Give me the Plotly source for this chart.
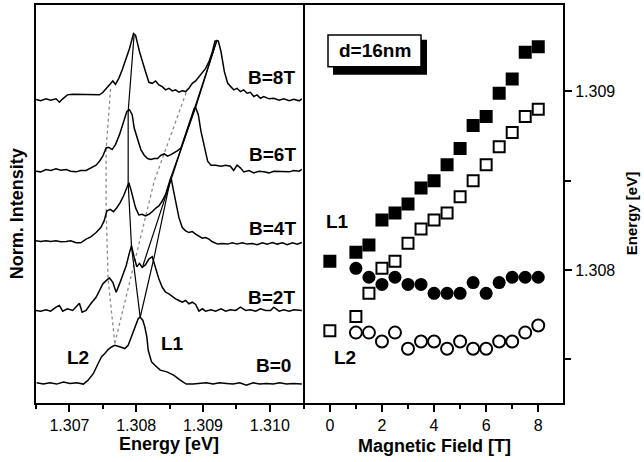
import plotly.graph_objects as go

# ---------------- Left panel: PL spectra (energy in eV, intensity in arb. units) ----------------
E8 = [1.30650, 1.30657, 1.30665, 1.30672, 1.30680, 1.30685, 1.30690, 1.30697, 1.30705, 1.30715,
      1.30725, 1.30735, 1.30745, 1.30750, 1.30755, 1.30760, 1.30765, 1.30769, 1.30774, 1.30779,
      1.30784, 1.30790, 1.30796, 1.30799, 1.30805, 1.30809, 1.30814, 1.30819, 1.30824, 1.30829,
      1.30834, 1.30839, 1.30844, 1.30849, 1.30854, 1.30859, 1.30864, 1.30869, 1.30874, 1.30879,
      1.30884, 1.30889, 1.30894, 1.30899, 1.30904, 1.30909, 1.30914, 1.30918, 1.30923, 1.30927,
      1.30932, 1.30937, 1.30942, 1.30946, 1.30951, 1.30956, 1.30961, 1.30966, 1.30971, 1.30976,
      1.30981, 1.30986, 1.30991, 1.30999, 1.31006, 1.31014, 1.31021, 1.31029, 1.31036, 1.31044,
      1.31048]
I8 = [0, -1.3, 0.7, -0.7, 0.7, -2.7, 0.7, 4.7, 5.3, 5.3,
      5.3, 5.3, 4.7, 7, 11.3, 14.7, 18.7, 15.3, 21.3, 29.7,
      39.7, 51.3, 66.3, 64.7, 48, 38, 28, 17.3, 16.3, 18.7,
      14.7, 13, 9.7, 11.3, 8.7, 9.7, 7.3, 8.7, 8, 11.3,
      16.3, 18.7, 23, 26.3, 31.3, 38, 48, 58.7, 58.7, 48,
      28, 16.3, 13, 9.7, 11.3, 8, 9.7, 6.3, 7.3, 3,
      4.7, 1.3, 3, 0.7, 1.3, -0.7, 0.7, -1.3, 0.3, -1.3,
      0.7]

E6 = [1.30650, 1.30657, 1.30665, 1.30672, 1.30680, 1.30687, 1.30695, 1.30702, 1.30710, 1.30717,
      1.30725, 1.30732, 1.30740, 1.30745, 1.30750, 1.30755, 1.30759, 1.30764, 1.30769, 1.30775,
      1.30781, 1.30786, 1.30790, 1.30794, 1.30797, 1.30802, 1.30807, 1.30812, 1.30817, 1.30822,
      1.30827, 1.30832, 1.30837, 1.30842, 1.30847, 1.30852, 1.30857, 1.30862, 1.30867, 1.30872,
      1.30877, 1.30882, 1.30887, 1.30889, 1.30893, 1.30897, 1.30902, 1.30907, 1.30912, 1.30919,
      1.30927, 1.30934, 1.30941, 1.30946, 1.30951, 1.30956, 1.30961, 1.30969, 1.30976, 1.30984,
      1.30991, 1.30999, 1.31006, 1.31014, 1.31021, 1.31029, 1.31036, 1.31044, 1.31048]
I6 = [-1, -1.7, 0.7, -0.3, 1.3, 0, 0.7, -1, -1.7, -0.3,
      -0.3, 2.3, 5, 9, 14, 22.3, 23, 20.7, 25.7, 35.7,
      49, 59, 60.7, 55.7, 42.3, 30.7, 20.7, 15, 11.7, 10.7,
      11.7, 11.7, 15, 16.3, 14, 15.7, 17.3, 19.7, 22.3, 32.3,
      42.3, 54, 62.3, 63, 55.7, 39, 22.3, 9, 5, 5,
      4, 5, 4, -0.3, 5, 2.3, -1.7, -0.3, -2.7, -1,
      -1.7, -2.7, -1, -1, -1, -1.7, -0.3, -1, 0.7]

E4 = [1.30650, 1.30657, 1.30665, 1.30672, 1.30680, 1.30687, 1.30695, 1.30702, 1.30710, 1.30717,
      1.30725, 1.30732, 1.30740, 1.30747, 1.30752, 1.30756, 1.30761, 1.30766, 1.30771, 1.30776,
      1.30781, 1.30786, 1.30789, 1.30792, 1.30795, 1.30799, 1.30804, 1.30809, 1.30814, 1.30819,
      1.30824, 1.30829, 1.30834, 1.30839, 1.30844, 1.30849, 1.30852, 1.30856, 1.30860, 1.30864,
      1.30869, 1.30874, 1.30879, 1.30884, 1.30889, 1.30894, 1.30899, 1.30904, 1.30909, 1.30914,
      1.30922, 1.30929, 1.30937, 1.30944, 1.30951, 1.30959, 1.30966, 1.30974, 1.30981, 1.30989,
      1.30996, 1.31004, 1.31011, 1.31019, 1.31026, 1.31034, 1.31041, 1.31048]
I4 = [1, 0.3, 1, 0.3, 1, 0, 0.3, 1, -1, -1,
      2.7, 5, 9.3, 14.3, 21, 31, 32.7, 30.3, 34.3, 39.3,
      46, 54.3, 59.3, 52.7, 44.3, 34.3, 27, 27.7, 26, 27.7,
      30.3, 33.7, 36, 41, 47.7, 59.3, 65, 51, 37.7, 24.3,
      14.3, 11, 9.3, 10.3, 7.7, 6, 3.7, 4.3, 2.7, 0,
      -2.3, -1.7, -2.3, -1, -2.3, -1, -2.3, -1.7, -3, -1,
      -2.3, -0.7, -2.3, -1, -3, -1, -2.3, -0.7]

E2 = [1.30650, 1.30657, 1.30665, 1.30672, 1.30680, 1.30685, 1.30690, 1.30697, 1.30705, 1.30712,
      1.30715, 1.30719, 1.30725, 1.30732, 1.30740, 1.30745, 1.30750, 1.30755, 1.30760, 1.30765,
      1.30770, 1.30775, 1.30780, 1.30785, 1.30790, 1.30793, 1.30797, 1.30801, 1.30805, 1.30809,
      1.30814, 1.30819, 1.30824, 1.30829, 1.30834, 1.30839, 1.30844, 1.30849, 1.30854, 1.30859,
      1.30864, 1.30869, 1.30874, 1.30879, 1.30884, 1.30889, 1.30894, 1.30899, 1.30904, 1.30912,
      1.30919, 1.30927, 1.30934, 1.30941, 1.30949, 1.30956, 1.30964, 1.30971, 1.30979, 1.30986,
      1.30994, 1.31001, 1.31006, 1.31014, 1.31021, 1.31029, 1.31036, 1.31048]
I2 = [0, -0.7, 0.7, -0.7, 3.3, 5, -0.7, 1.7, 0, 5,
      7.3, -1.7, 0, 6.7, 13.3, 20, 26.7, 30, 32.7, 28.3,
      18.3, 26.7, 35, 45, 58.3, 65, 53.3, 44, 47.3, 43.3,
      46, 51.7, 54, 41.7, 31.7, 23.3, 18.3, 16.7, 14, 11.7,
      10, 8.3, 10, 6.7, 8.3, 6, -0.7, 1.7, -0.7, 0.7,
      -0.7, 1.7, -0.7, 0.7, 0, 3.3, 0, 0.7, -0.7, 1.7,
      0, 0, 3.3, -0.7, 0.7, -0.7, 0.7, 0]

E0 = [1.30651, 1.30661, 1.30671, 1.30681, 1.30691, 1.30701, 1.30711, 1.30721, 1.30728, 1.30736,
      1.30743, 1.30748, 1.30753, 1.30758, 1.30763, 1.30768, 1.30773, 1.30778, 1.30783, 1.30788,
      1.30793, 1.30798, 1.30803, 1.30806, 1.30810, 1.30813, 1.30816, 1.30818, 1.30823, 1.30828,
      1.30836, 1.30846, 1.30856, 1.30866, 1.30875, 1.30885, 1.30895, 1.30905, 1.30915, 1.30925,
      1.30935, 1.30945, 1.30955, 1.30965, 1.30975, 1.30985, 1.30995, 1.31005, 1.31015, 1.31025,
      1.31035, 1.31048]
I0 = [0.3, -1, 0.3, -1, 1, -0.3, 0.3, -1, 3, 9.7,
      19.7, 26.3, 29.7, 33.7, 36.3, 38, 37, 35.7, 34.7, 38,
      46.3, 56.3, 64.7, 66.3, 63, 56.3, 46.3, 33, 21.3, 18,
      13, 11.3, 8, 3, -1, -1, -0.3, 0.3, -1, 0.3,
      -0.3, -1, 0.3, -2, 0.3, -1, -0.3, -1, 0.3, -1,
      -0.3, -1]

spectra_labels = ["B=0", "B=2T", "B=4T", "B=6T", "B=8T"]
spectra_E = [E0, E2, E4, E6, E8]
spectra_I = [I0, I2, I4, I6, I8]
spectra_offset = [19, 92, 161, 233, 304]

# guide lines through peaks (energy, stacked intensity)
guideA_E = [1.30806, 1.30793, 1.30788, 1.30788, 1.30797]
guideA_y = [85, 156, 220, 292, 370]
guideB_E = [1.30806, 1.30827, 1.30852, 1.30889, 1.30921]
guideB_y = [85, 146, 226, 296, 364]
guideB2_E = [1.30810, 1.30921]
guideB2_y = [137, 364]
dotted1_E = [1.30768, 1.30758, 1.30755, 1.30755, 1.30762]
dotted1_y = [59, 123, 194, 254, 318]
dotted2_E = [1.30768, 1.30796, 1.30827, 1.30870, 1.30877]
dotted2_y = [59, 135, 222, 302, 315]

# ---------------- Right panel: peak energies vs magnetic field ----------------
B_sq = [0, 1, 1.5, 2, 2.5, 3, 3.5, 4, 4.5, 5, 5.5, 6, 6.5, 7, 7.5, 8]
L1_filled = [1.30805, 1.30810, 1.30814, 1.30828, 1.30832, 1.30837, 1.30846, 1.30850,
             1.30859, 1.30868, 1.30881, 1.30886, 1.30899, 1.30907, 1.30922, 1.30925]
L1_open = [1.30766, 1.30774, 1.30787, 1.30801, 1.30805, 1.30815, 1.30823, 1.30828,
           1.30832, 1.30841, 1.30850, 1.30859, 1.30869, 1.30877, 1.30886, 1.30890]
B_circ = [1, 1.5, 2, 2.5, 3, 3.5, 4, 4.5, 5, 5.5, 6, 6.5, 7, 7.5, 8]
L2_filled = [1.30801, 1.30796, 1.30792, 1.30796, 1.30792, 1.30792, 1.30787, 1.30787,
             1.30787, 1.30793, 1.30787, 1.30793, 1.30796, 1.30796, 1.30796]
L2_open = [1.30765, 1.30765, 1.30760, 1.30765, 1.30756, 1.30760, 1.30760, 1.30756,
           1.30760, 1.30756, 1.30756, 1.30760, 1.30760, 1.30765, 1.30769]

FONT = "Arial, Liberation Sans, sans-serif"
fig = go.Figure()

# dotted guides
for ex, ey in [(dotted1_E, dotted1_y), (dotted2_E, dotted2_y)]:
    fig.add_trace(go.Scatter(x=ex, y=ey, mode="lines", xaxis="x", yaxis="y",
                             line=dict(color="#8a8a8a", width=1.3, dash="dot"), showlegend=False))
# spectra
for e, inten, off in zip(spectra_E, spectra_I, spectra_offset):
    fig.add_trace(go.Scatter(x=e, y=[v + off for v in inten], mode="lines", xaxis="x", yaxis="y",
                             line=dict(color="black", width=1.5), showlegend=False))
# solid guides
for ex, ey in [(guideA_E, guideA_y), (guideB_E, guideB_y), (guideB2_E, guideB2_y)]:
    fig.add_trace(go.Scatter(x=ex, y=ey, mode="lines", xaxis="x", yaxis="y",
                             line=dict(color="black", width=1.2), showlegend=False))

# right panel markers
fig.add_trace(go.Scatter(x=B_circ, y=L2_filled, mode="markers", xaxis="x2", yaxis="y2",
                         marker=dict(symbol="circle", size=13, color="black", line=dict(width=0)),
                         showlegend=False))
fig.add_trace(go.Scatter(x=B_circ, y=L2_open, mode="markers", xaxis="x2", yaxis="y2",
                         marker=dict(symbol="circle", size=12, color="white",
                                     line=dict(width=2, color="black")), showlegend=False))
fig.add_trace(go.Scatter(x=B_sq, y=L1_filled, mode="markers", xaxis="x2", yaxis="y2",
                         marker=dict(symbol="square", size=13, color="black", line=dict(width=0)),
                         showlegend=False))
fig.add_trace(go.Scatter(x=B_sq, y=L1_open, mode="markers", xaxis="x2", yaxis="y2",
                         marker=dict(symbol="square", size=11, color="white",
                                     line=dict(width=2, color="black")), showlegend=False))

SPLIT = 0.5057
tickfont = dict(family=FONT, size=16, color="black")
fig.update_layout(
    width=644, height=462,
    margin=dict(l=36, r=81, t=3, b=59),
    paper_bgcolor="white", plot_bgcolor="white",
    font=dict(family=FONT, color="black"),
    xaxis=dict(domain=[0, SPLIT], range=[1.3065, 1.31049], anchor="y",
               tickmode="linear", tick0=1.307, dtick=0.001, tickformat=".3f",
               ticks="outside", ticklen=7, tickwidth=1.5, tickcolor="black",
               minor=dict(tick0=1.307, dtick=0.0005, ticks="outside", ticklen=4,
                          tickwidth=1.5, tickcolor="black"),
               showline=True, linewidth=2, linecolor="black", mirror=True,
               showgrid=False, zeroline=False, tickfont=tickfont),
    yaxis=dict(domain=[0, 1], range=[-1, 399], anchor="x",
               showticklabels=False, ticks="",
               showline=True, linewidth=2, linecolor="black", mirror=True,
               showgrid=False, zeroline=False),
    xaxis2=dict(domain=[SPLIT, 1], range=[-1.05, 8.95], anchor="y2",
                tickmode="linear", tick0=0, dtick=2,
                ticks="outside", ticklen=7, tickwidth=1.5, tickcolor="black",
                minor=dict(tick0=0, dtick=1, ticks="outside", ticklen=4,
                           tickwidth=1.5, tickcolor="black"),
                showline=True, linewidth=2, linecolor="black", mirror=True,
                showgrid=False, zeroline=False, tickfont=tickfont),
    yaxis2=dict(domain=[0, 1], range=[1.307256, 1.309484], anchor="x2", side="right",
                tickmode="linear", tick0=1.308, dtick=0.001, tickformat=".3f",
                ticks="outside", ticklen=7, tickwidth=1.5, tickcolor="black",
                minor=dict(tick0=1.308, dtick=0.0005, ticks="outside", ticklen=6,
                           tickwidth=1.5, tickcolor="black"),
                showline=True, linewidth=2, linecolor="black", mirror=False,
                showgrid=False, zeroline=False, tickfont=tickfont),
)

def px_x(px):
    return (px - 36) / 527.0

def px_y(py):
    return (402.5 - py) / 399.5

annots = []
def lab(text, x, y, size=19, angle=0):
    annots.append(dict(text="<b>%s</b>" % text, x=px_x(x), y=px_y(y), xref="paper", yref="paper",
                       showarrow=False, xanchor="center", yanchor="middle", textangle=angle,
                       font=dict(family=FONT, size=size, color="black")))

lab("B=8T", 271, 76)
lab("B=6T", 272.5, 153)
lab("B=4T", 272.5, 227)
lab("B=2T", 271, 297)
lab("B=0", 273, 365)
lab("L2", 78, 357)
lab("L1", 172, 343)
lab("L1", 337, 220)
lab("L2", 345, 357)
lab("d=16nm", 374.5, 49, size=19)
lab("Energy [eV]", 169, 444, size=18)
lab("Magnetic Field [T]", 434, 446, size=18)
lab("Norm. Intensity", 17, 213, size=18, angle=-90)
lab("Energy [eV]", 631, 213, size=15, angle=-90)
fig.update_layout(annotations=annots)

fig.update_layout(shapes=[
    dict(type="rect", xref="paper", yref="paper", x0=px_x(333), x1=px_x(427), y0=px_y(73), y1=px_y(38),
         fillcolor="black", line=dict(width=0), layer="above"),
    dict(type="rect", xref="paper", yref="paper", x0=px_x(328), x1=px_x(421), y0=px_y(65), y1=px_y(33),
         fillcolor="white", line=dict(width=1.5, color="black"), layer="above"),
])

fig.write_html("out.html")
